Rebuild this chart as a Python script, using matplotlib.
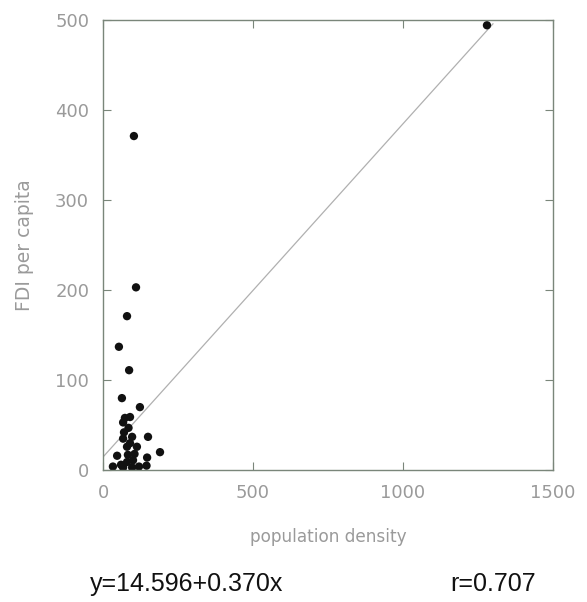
import matplotlib
matplotlib.use("Agg")
import matplotlib.pyplot as plt
import numpy as np

plt.rcParams['font.family'] = ['DejaVu Sans']

# population density vs FDI per capita
density = [1280, 103, 110, 80, 53, 87, 63, 123, 73, 90, 67, 70, 97, 150,
           67, 90, 80, 113, 190, 47, 83, 147, 100, 80, 33, 67, 97, 145,
           120, 60, 105, 85]
fdi = [494, 371, 203, 171, 137, 111, 80, 70, 58, 59, 53, 42, 37, 37,
       35, 30, 26, 26, 20, 16, 17, 14, 11, 9, 4, 3, 3, 5,
       4, 6, 18, 47]

intercept = 14.596
slope = 0.370
r_value = 0.707

xticks = [0, 500, 1000, 1500]
yticks = [0, 100, 200, 300, 400, 500]

grey = '#9a9a9a'
axis_col = '#7a867a'

fig = plt.figure(figsize=(5.87, 6.02), dpi=100)
ax = fig.add_axes([0.1755, 0.219, 0.7665, 0.748])

xs = np.array([0, 1300])
ax.plot(xs, intercept + slope * xs, color='#b0b0b0', lw=0.9, zorder=1)
ax.scatter(density, fdi, s=36, color='#111111', edgecolors='none', zorder=2)

ax.set_xlim(0, 1500)
ax.set_ylim(0, 500)
ax.set_xticks(xticks)
ax.set_yticks(yticks)
ax.tick_params(direction='in', length=6, width=0.8, color=axis_col,
               labelcolor=grey, labelsize=13, pad=10,
               top=True, right=True)
for sp in ax.spines.values():
    sp.set_color(axis_col)
    sp.set_linewidth(1.0)

ax.set_xlabel('population density', color=grey, fontsize=12.2, labelpad=19)
ax.set_ylabel('FDI per capita', color=grey, fontsize=13.5, labelpad=15)

fig.text(90 / 587, 1 - 584 / 602, 'y=%.3f+%.3fx' % (intercept, slope),
         fontsize=18, color='#111111', va='center', ha='left',
         family='Liberation Sans')
fig.text(450 / 587, 1 - 584 / 602, 'r=%.3f' % r_value,
         fontsize=18, color='#111111', va='center', ha='left',
         family='Liberation Sans')

fig.savefig('out.png', dpi=100, facecolor='white')
